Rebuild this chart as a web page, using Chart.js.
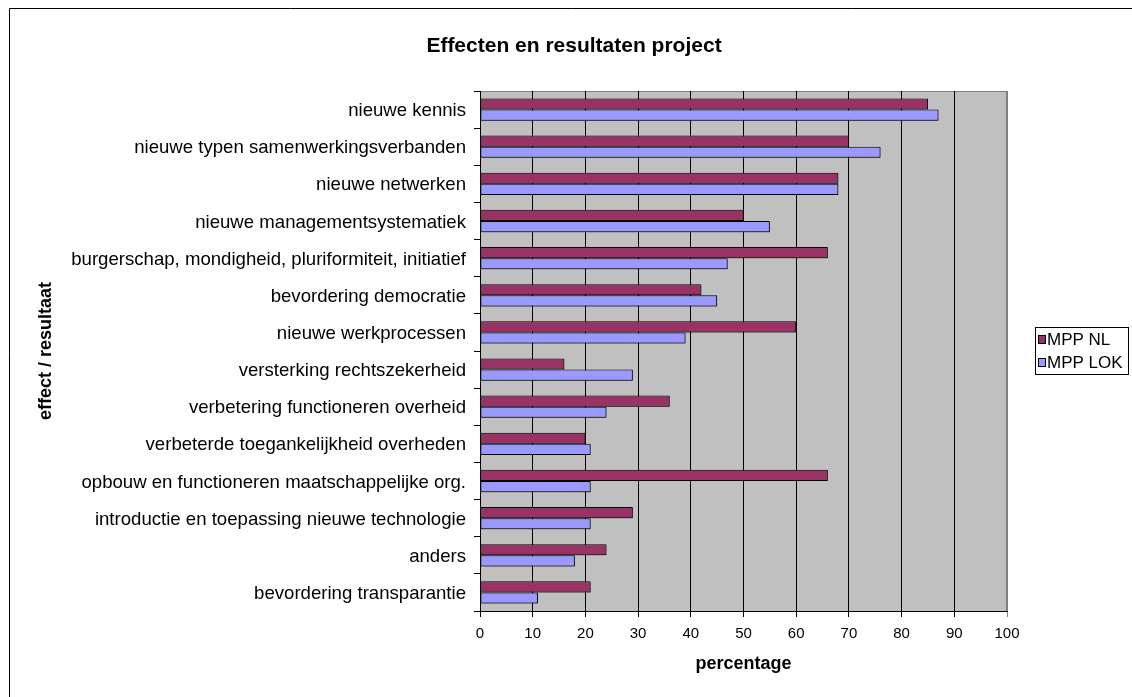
<!DOCTYPE html>
<html>
<head>
<meta charset="utf-8">
<script src="https://cdn.jsdelivr.net/npm/chart.js@4.4.0/dist/chart.umd.min.js"></script>
<style>
  html, body { margin: 0; padding: 0; background: #fff; }
  #wrap { width: 1132px; height: 697px; position: relative; }
</style>
</head>
<body>
<div id="wrap"><canvas id="chart" width="1132" height="697"></canvas></div>
<script>
// categories, top to bottom
const categories = [
  'nieuwe kennis',
  'nieuwe typen samenwerkingsverbanden',
  'nieuwe netwerken',
  'nieuwe managementsystematiek',
  'burgerschap, mondigheid, pluriformiteit, initiatief',
  'bevordering democratie',
  'nieuwe werkprocessen',
  'versterking rechtszekerheid',
  'verbetering functioneren overheid',
  'verbeterde toegankelijkheid overheden',
  'opbouw en functioneren maatschappelijke org.',
  'introductie en toepassing nieuwe technologie',
  'anders',
  'bevordering transparantie'
];

const seriesNames = ['MPP NL', 'MPP LOK'];
const mppNL  = [85, 70, 68, 50, 66, 42, 60, 16, 36, 20, 66, 29, 24, 21];
const mppLOK = [87, 76, 68, 55, 47, 45, 39, 29, 24, 21, 21, 21, 18, 11];

const xTicks = [0, 10, 20, 30, 40, 50, 60, 70, 80, 90, 100];

const titleText = 'Effecten en resultaten project';
const xTitle = 'percentage';
const yTitle = 'effect / resultaat';

const FONT = 'Arial, "Liberation Sans", sans-serif';

// grey plot background, frame and title
const backdrop = {
  id: 'backdrop',
  beforeDraw(chart) {
    const { ctx, chartArea: a } = chart;
    ctx.save();
    ctx.fillStyle = '#fff';
    ctx.fillRect(0, 0, chart.width, chart.height);
    // outer frame (only left and top edges fall inside the canvas)
    ctx.strokeStyle = '#000';
    ctx.lineWidth = 1;
    ctx.beginPath();
    ctx.moveTo(9.5, chart.height + 5);
    ctx.lineTo(9.5, 8.5);
    ctx.lineTo(chart.width + 5, 8.5);
    ctx.stroke();
    // plot area
    ctx.fillStyle = '#c0c0c0';
    ctx.fillRect(a.left, a.top, a.right - a.left, a.bottom - a.top);
    ctx.strokeStyle = '#808080';
    ctx.strokeRect(a.left + 0.5, a.top + 0.5, a.right - a.left - 1, a.bottom - a.top);
    // title
    ctx.fillStyle = '#000';
    ctx.font = 'bold 21px ' + FONT;
    ctx.textAlign = 'center';
    ctx.textBaseline = 'middle';
    ctx.fillText(titleText, 574, 46);
    ctx.restore();
  },
  beforeDatasetsDraw(chart) {
    const ctx = chart.ctx;
    ctx.save();
    ctx.shadowColor = 'rgba(0,0,0,0.35)';
    ctx.shadowOffsetX = 1;
    ctx.shadowOffsetY = 1;
  },
  afterDatasetsDraw(chart) {
    chart.ctx.restore();
  }
};

// boxed legend at the right
const boxLegend = {
  id: 'boxLegend',
  afterDraw(chart) {
    const ctx = chart.ctx;
    ctx.save();
    ctx.strokeStyle = '#000';
    ctx.lineWidth = 1;
    ctx.strokeRect(1035.5, 327.5, 93, 47);
    ctx.font = '17px ' + FONT;
    ctx.textAlign = 'left';
    ctx.textBaseline = 'middle';
    chart.data.datasets.forEach((ds, i) => {
      const cy = 339 + i * 23;
      ctx.fillStyle = ds.backgroundColor;
      ctx.fillRect(1039, cy - 3, 6, 7);
      ctx.strokeRect(1038.5, cy - 3.5, 7, 8);
      ctx.fillStyle = '#000';
      ctx.fillText(ds.label, 1047, cy + 1);
    });
    ctx.restore();
  }
};

new Chart(document.getElementById('chart'), {
  type: 'bar',
  data: {
    labels: categories,
    datasets: [
      { label: seriesNames[0], data: mppNL, backgroundColor: '#993366' },
      { label: seriesNames[1], data: mppLOK, backgroundColor: '#9999ff' }
    ]
  },
  options: {
    indexAxis: 'y',
    responsive: false,
    animation: false,
    layout: { padding: { top: 91, right: 125, bottom: 0, left: 0 } },
    datasets: {
      bar: {
        borderColor: '#000',
        borderWidth: 1,
        borderSkipped: false,
        categoryPercentage: 0.6,
        barPercentage: 1
      }
    },
    scales: {
      x: {
        min: 0,
        max: 100,
        afterFit: (s) => { s.height = 86; },
        afterBuildTicks: (s) => { s.ticks = xTicks.map((v) => ({ value: v })); },
        ticks: { font: { family: FONT, size: 15 }, color: '#000', padding: 8 },
        grid: {
          color: (c) => (c.tick && c.tick.value === 100 ? '#808080' : '#000'),
          lineWidth: 1,
          tickLength: 6
        },
        border: { color: '#000' },
        title: {
          display: true,
          text: xTitle,
          font: { family: FONT, size: 18, weight: 'bold' },
          color: '#000',
          padding: { top: 0, bottom: 22 }
        }
      },
      y: {
        afterFit: (s) => { s.width = 480; },
        ticks: {
          font: { family: FONT, size: 18.6 },
          color: '#000',
          padding: 8,
          labelOffset: 1.5,
          autoSkip: false
        },
        grid: { drawOnChartArea: false, color: '#000', tickLength: 6 },
        border: { color: '#000' },
        title: {
          display: true,
          text: yTitle,
          font: { family: FONT, size: 18, weight: 'bold' },
          color: '#000',
          padding: { top: 35, bottom: 0 }
        }
      }
    },
    plugins: {
      legend: { display: false },
      tooltip: { enabled: false }
    }
  },
  plugins: [backdrop, boxLegend]
});
</script>
</body>
</html>
